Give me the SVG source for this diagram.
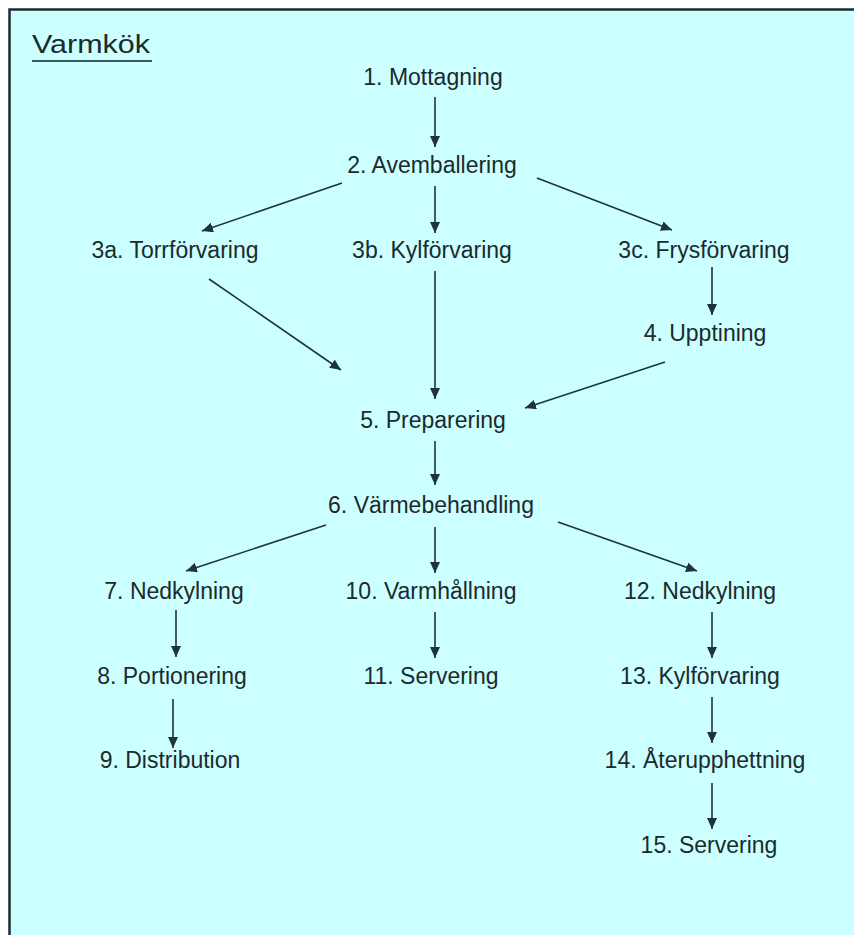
<svg xmlns="http://www.w3.org/2000/svg" width="854" height="935" viewBox="0 0 854 935">
<style>
.n{font-family:"Liberation Sans",Arial,sans-serif;font-size:23px;fill:#1c2a2c;text-anchor:middle}
.c line{stroke:#1e3436;stroke-width:1.6;marker-end:url(#ah)}
</style>
<defs>
<marker id="ah" markerUnits="userSpaceOnUse" markerWidth="12" markerHeight="10" refX="11" refY="5" orient="auto">
<path d="M0,0 L11,5 L0,10 Z" fill="#1e3436"/>
</marker>
</defs>
<rect x="9.5" y="9.5" width="870" height="960" fill="#CCFFFF" stroke="#1b2e30" stroke-width="2.5"/>
<g id="title">
<text x="32" y="53" font-family="Liberation Sans,Arial,sans-serif" font-size="25" fill="#1c2a2c" textLength="118" lengthAdjust="spacingAndGlyphs">Varmkök</text>
<line x1="32" y1="61" x2="152" y2="61" stroke="#3a5a5c" stroke-width="2"/>
</g>
<g id="n1"><text class="n" x="433" y="85">1. Mottagning</text></g>
<g id="n2"><text class="n" x="432" y="173">2. Avemballering</text></g>
<g id="n3a"><text class="n" x="175" y="258">3a. Torrförvaring</text></g>
<g id="n3b"><text class="n" x="432" y="258">3b. Kylförvaring</text></g>
<g id="n3c"><text class="n" x="704" y="258">3c. Frysförvaring</text></g>
<g id="n4"><text class="n" x="705" y="341">4. Upptining</text></g>
<g id="n5"><text class="n" x="433" y="428">5. Preparering</text></g>
<g id="n6"><text class="n" x="431" y="513">6. Värmebehandling</text></g>
<g id="n7"><text class="n" x="174" y="599">7. Nedkylning</text></g>
<g id="n10"><text class="n" x="431" y="599">10. Varmhållning</text></g>
<g id="n12"><text class="n" x="700" y="599">12. Nedkylning</text></g>
<g id="n8"><text class="n" x="172" y="684">8. Portionering</text></g>
<g id="n11"><text class="n" x="431" y="684">11. Servering</text></g>
<g id="n13"><text class="n" x="700" y="684">13. Kylförvaring</text></g>
<g id="n9"><text class="n" x="170" y="768">9. Distribution</text></g>
<g id="n14"><text class="n" x="705" y="768">14. Återupphettning</text></g>
<g id="n15"><text class="n" x="709" y="853">15. Servering</text></g>
<g id="connectors" class="c">
<line x1="435" y1="97" x2="435" y2="147"/>
<line x1="342" y1="183" x2="202" y2="231"/>
<line x1="435" y1="186" x2="435" y2="233"/>
<line x1="537" y1="178" x2="672" y2="230"/>
<line x1="209" y1="279" x2="341" y2="370"/>
<line x1="435" y1="271" x2="435" y2="399"/>
<line x1="712" y1="267" x2="712" y2="315"/>
<line x1="665" y1="362" x2="525" y2="408"/>
<line x1="435" y1="441" x2="435" y2="485"/>
<line x1="326" y1="525" x2="186" y2="571"/>
<line x1="435" y1="527" x2="435" y2="573"/>
<line x1="558" y1="522" x2="697" y2="571"/>
<line x1="176" y1="610" x2="176" y2="657"/>
<line x1="173" y1="699" x2="173" y2="748"/>
<line x1="435" y1="612" x2="435" y2="658"/>
<line x1="712" y1="612" x2="712" y2="658"/>
<line x1="712" y1="697" x2="712" y2="743"/>
<line x1="712" y1="783" x2="712" y2="829"/>
</g>
</svg>
